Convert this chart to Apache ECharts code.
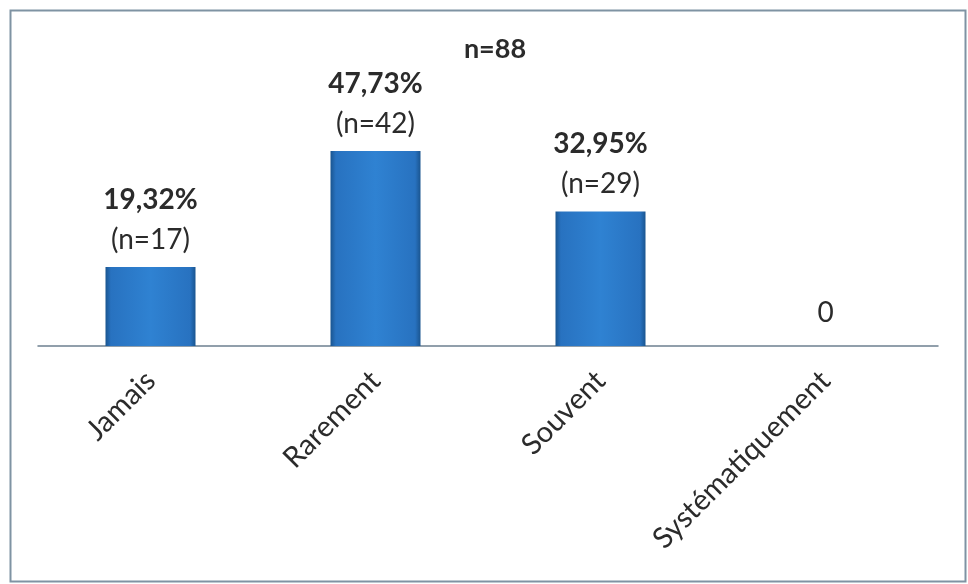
<!DOCTYPE html>
<html>
<head>
<meta charset="utf-8">
<script src="https://cdn.jsdelivr.net/npm/echarts@6/dist/echarts.min.js"></script>
<style>
html,body{margin:0;padding:0;background:#fff;}
#c{width:968px;height:584px;}
</style>
</head>
<body>
<div id="c"></div>
<script>
const categories = ['Jamais', 'Rarement', 'Souvent', 'Systématiquement'];
const percentages = [19.32, 47.73, 32.95, 0];
const counts = [17, 42, 29, 0];
const totalLabel = 'n=88';

const FONT = 'Lato, "Open Sans", sans-serif';
const chart = echarts.init(document.getElementById('c'));

function fmtPct(v) { return v.toFixed(2).replace('.', ',') + '%'; }

const barColor = new echarts.graphic.LinearGradient(0, 0, 1, 0, [
  { offset: 0, color: '#1a5590' },
  { offset: 0.06, color: '#2872c0' },
  { offset: 0.5, color: '#2f82d2' },
  { offset: 0.94, color: '#2872c0' },
  { offset: 1, color: '#1a5590' }
]);

chart.setOption({
  animation: false,
  backgroundColor: '#ffffff',
  title: {
    text: totalLabel,
    left: 490, top: 31, textAlign: 'center',
    textStyle: { fontFamily: FONT, fontSize: 27, fontWeight: 'bold', color: '#2b2b2b' }
  },
  graphic: [{
    type: 'rect', silent: true, z: 100,
    shape: { x: 10.5, y: 10.5, width: 955, height: 571 },
    style: { fill: null, stroke: '#7f93a3', lineWidth: 2 }
  }],
  grid: { left: 38, right: 30, top: 101, bottom: 238, containLabel: false },
  xAxis: {
    type: 'category',
    data: categories,
    axisLine: { lineStyle: { color: '#6d8090', width: 1.5 } },
    axisTick: { show: false },
    axisLabel: {
      rotate: 45, interval: 0, margin: 30,
      fontFamily: FONT, fontSize: 29, color: '#2b2b2b'
    }
  },
  yAxis: {
    type: 'value', min: 0, max: 60,
    show: false, splitLine: { show: false }
  },
  series: [{
    type: 'bar',
    data: percentages,
    barWidth: 90,
    itemStyle: { color: barColor, borderWidth: 0 },
    label: {
      show: true, position: 'top', distance: 8,
      formatter: function (p) {
        const i = p.dataIndex;
        if (percentages[i] === 0) return '{z|0}';
        return '{b|' + fmtPct(percentages[i]) + '}\n{n|(n=' + counts[i] + ')}';
      },
      rich: {
        b: { fontFamily: FONT, fontSize: 28, fontWeight: 'bold', color: '#2b2b2b', lineHeight: 41 },
        n: { fontFamily: FONT, fontSize: 28, color: '#2b2b2b', lineHeight: 39 },
        z: { fontFamily: FONT, fontSize: 28, color: '#2b2b2b', lineHeight: 50 }
      }
    }
  }]
});
</script>
</body>
</html>
